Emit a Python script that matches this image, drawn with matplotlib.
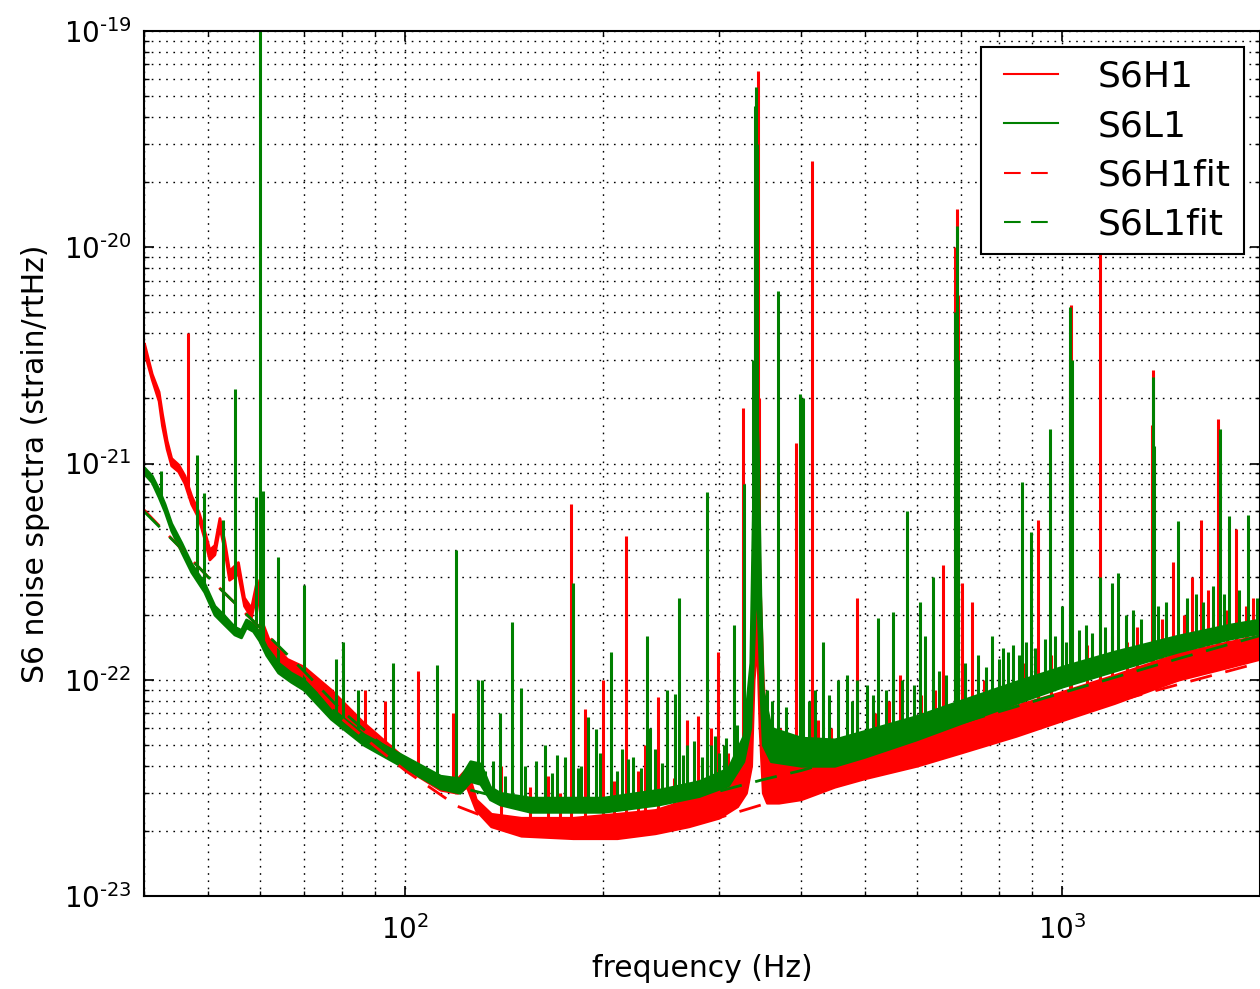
import math
import matplotlib
matplotlib.use("Agg")
import matplotlib.pyplot as plt
from matplotlib.lines import Line2D
from matplotlib.ticker import LogLocator, NullFormatter, FixedLocator, FuncFormatter

# broadband noise floor: knot frequency, lower and upper edge of the trace
h1_band_f = [40, 41.1, 42.1, 42.6, 43.3, 44.0, 45.1, 46.1, 47.2, 48.4, 49.4, 50.3, 51.2, 52.1,
             53.0, 53.9, 55.6, 56.8, 58.2, 59.4, 60.7, 62.0, 63.5, 66, 70, 77, 86, 100, 113,
             120, 124, 128, 135, 150, 180, 210, 240, 270, 300, 320, 330, 336, 339, 343, 346,
             350, 355, 370, 400, 450, 500, 600, 700, 850, 1000, 1200, 1500, 1800, 2000]
h1_band_lo = [3.3e-21, 2.45e-21, 1.95e-21, 1.5e-21, 1.17e-21, 9.8e-22, 9.2e-22, 8.1e-22, 6.5e-22,
              5.6e-22, 4.5e-22, 3.6e-22, 3.8e-22, 5.1e-22, 4.0e-22, 2.9e-22, 3.1e-22, 2.2e-22,
              1.95e-22, 2.6e-22, 1.62e-22, 1.38e-22, 1.28e-22, 1.08e-22, 9.4e-23, 7.4e-23,
              5.5e-23, 3.9e-23, 3.1e-23, 3.0e-23, 3.2e-23, 2.5e-23, 2.1e-23, 1.9e-23, 1.85e-23,
              1.85e-23, 1.95e-23, 2.1e-23, 2.3e-23, 2.6e-23, 3.0e-23, 4.0e-23, 1.0e-22, 1.5e-22,
              6e-23, 3.0e-23, 2.7e-23, 2.7e-23, 2.8e-23, 3.2e-23, 3.5e-23, 4.0e-23, 4.6e-23,
              5.5e-23, 6.5e-23, 7.8e-23, 1.0e-22, 1.15e-22, 1.25e-22]
h1_band_hi = [3.6e-21, 2.6e-21, 2.15e-21, 1.7e-21, 1.28e-21, 1.06e-21, 9.9e-22, 8.8e-22, 7.1e-22,
              6.0e-22, 4.9e-22, 4.0e-22, 4.2e-22, 5.6e-22, 4.4e-22, 3.2e-22, 3.5e-22, 2.4e-22,
              2.15e-22, 2.9e-22, 1.8e-22, 1.52e-22, 1.42e-22, 1.25e-22, 1.15e-22, 9.0e-23,
              6.4e-23, 4.3e-23, 3.4e-23, 3.5e-23, 3.9e-23, 2.8e-23, 2.4e-23, 2.3e-23, 2.3e-23,
              2.4e-23, 2.5e-23, 2.8e-23, 3.2e-23, 3.8e-23, 5.5e-23, 1.2e-22, 6e-22, 1.5e-21,
              3e-22, 1.0e-22, 5e-23, 4.2e-23, 4.0e-23, 4.4e-23, 4.7e-23, 5.5e-23, 6.3e-23,
              7.6e-23, 8.8e-23, 1.05e-22, 1.32e-22, 1.5e-22, 1.6e-22]

l1_band_f = [40, 41.1, 42.1, 43.0, 44.0, 45.6, 47.2, 49.4, 51.2, 53.0, 54.9, 56.2, 57.2, 58.6,
             59.9, 61.4, 64.0, 66.9, 70, 77, 86.4, 100, 113, 121, 125.5, 130, 134.5, 139.3, 155,
             200, 243, 280, 310, 327, 335, 339, 341.5, 344, 347, 350, 360, 400, 450, 500, 600,
             700, 850, 1000, 1200, 1500, 1800, 2000]
l1_band_lo = [9.0e-22, 8.2e-22, 7.0e-22, 6.0e-22, 4.9e-22, 3.9e-22, 3.15e-22, 2.55e-22, 2.0e-22,
              1.8e-22, 1.62e-22, 1.57e-22, 1.75e-22, 1.68e-22, 1.52e-22, 1.3e-22, 1.08e-22,
              9.8e-23, 9.0e-23, 6.6e-23, 5.0e-23, 3.9e-23, 3.15e-23, 3.0e-23, 3.4e-23, 3.3e-23,
              2.8e-23, 2.65e-23, 2.45e-23, 2.45e-23, 2.65e-23, 2.9e-23, 3.25e-23, 4.2e-23, 6e-23,
              1.5e-22, 3e-22, 2e-22, 9e-23, 5e-23, 4.2e-23, 4.0e-23, 4.0e-23, 4.4e-23, 5.3e-23,
              6.3e-23, 7.8e-23, 9.3e-23, 1.1e-22, 1.35e-22, 1.55e-22, 1.65e-22]
l1_band_hi = [9.6e-22, 8.8e-22, 7.6e-22, 6.5e-22, 5.3e-22, 4.3e-22, 3.45e-22, 2.8e-22, 2.2e-22,
              1.98e-22, 1.76e-22, 1.7e-22, 1.9e-22, 1.82e-22, 1.66e-22, 1.42e-22, 1.2e-22,
              1.08e-22, 1.0e-22, 7.4e-23, 5.6e-23, 4.4e-23, 3.6e-23, 3.5e-23, 4.2e-23, 4.1e-23,
              3.2e-23, 3.0e-23, 2.85e-23, 2.85e-23, 3.1e-23, 3.4e-23, 3.9e-23, 5.5e-23, 1.2e-22,
              1e-21, 2e-21, 1.2e-21, 2.5e-22, 9e-23, 6e-23, 5.4e-23, 5.3e-23, 5.8e-23, 6.8e-23,
              8.0e-23, 9.8e-23, 1.15e-22, 1.35e-22, 1.6e-22, 1.8e-22, 1.9e-22]

# narrow spectral lines: frequency and peak height
h1_line_f = [46.6, 60.0, 86.8, 93, 104.5, 118, 179, 188, 200, 217, 242, 268, 279, 299, 327,
             340, 342, 344, 346, 393, 416, 487, 566, 659, 687, 691, 694, 703, 728, 918, 1027,
             1031, 1141, 1253, 1368, 1373, 1472, 1576, 1624, 1667, 1725, 1837, 1902, 1950,
             140, 155, 165, 172, 208, 226, 232, 256, 288, 292, 310, 372, 425, 445, 520, 545,
             610, 640, 760, 800, 870, 960, 1090, 1190, 1300, 1420, 1530, 1780]
h1_line_top = [4.0e-21, 3.3e-22, 9e-23, 8e-23, 1.1e-22, 7e-23, 6.5e-22, 7.3e-23, 1.0e-22, 4.6e-22,
               8.3e-23, 6.5e-23, 6.8e-23, 1.35e-22, 1.8e-21, 2e-20, 5e-20, 6.5e-20, 2e-21,
               1.25e-21, 2.5e-20, 2.4e-22, 1.05e-22, 3.4e-22, 1.0e-20, 1.5e-20, 6e-21, 2.8e-22,
               2.3e-22, 5.5e-22, 3e-21, 5.4e-21, 9.3e-21, 1.5e-22, 1.5e-21, 2.7e-21, 3.5e-22,
               3e-22, 5.5e-22, 2.6e-22, 1.6e-21, 5e-22, 2.2e-22, 2.4e-22,
               4.0e-23, 3.2e-23, 3.6e-23, 3.0e-23, 3.4e-23, 3.8e-23, 5.0e-23, 3.5e-23, 4.2e-23,
               6.0e-23, 4.6e-23, 6e-23, 6.5e-23, 6e-23, 7e-23, 8e-23, 8.5e-23, 9e-23, 1.0e-22,
               1.1e-22, 1.2e-22, 1.3e-22, 1.45e-22, 1.6e-22, 1.75e-22, 1.9e-22, 2.0e-22, 2.1e-22]

l1_line_f = [42.4, 48.2, 49.4, 52.8, 55.1, 59.3, 60.0, 60.8, 64.0, 70.0, 78.3, 80.3, 84.6, 95.9,
             111.8, 119.5, 129, 131, 139.3, 145.3, 149.9, 163, 179.7, 189.6, 195, 205.9, 233.4,
             236, 250, 257, 261, 287.8, 316, 327.5, 338, 340, 342, 343.5, 369, 398.6, 402.7,
             432, 456, 470, 487, 525, 553, 581, 608, 619, 636, 687, 691, 695, 782, 812, 842, 868,
             896, 958, 998, 1028, 1033, 1142, 1162, 1190, 1215, 1373, 1377, 1498, 1597, 1697,
             1737, 1792, 1915, 1980,
             158, 170, 185, 214, 222, 268, 296, 305, 355, 362, 380, 412, 420, 442, 478, 505, 515,
             540, 570, 595, 650, 665, 712, 745, 765, 800, 828, 858, 880, 910, 940, 975, 1012,
             1060, 1085, 1110, 1250, 1280, 1320, 1400, 1440, 1550, 1640, 1760, 1860,
             132, 136, 142, 152, 167, 175, 183, 198, 210, 218, 228, 240, 246, 265, 275, 283,
             292, 300, 308, 320]
l1_line_top = [9.2e-22, 1.1e-21, 7.3e-22, 5.5e-22, 2.2e-21, 7e-22, 1e-19, 7.5e-22, 3.7e-22,
               2.75e-22, 1.25e-22, 1.5e-22, 9e-23, 1.2e-22, 1.17e-22, 4.0e-22, 1e-22, 1e-22,
               7e-23, 1.85e-22, 9.2e-23, 5e-23, 2.8e-22, 6.7e-23, 5.9e-23, 1.35e-22, 1.6e-22,
               6e-23, 9e-23, 8.6e-23, 2.4e-22, 7.4e-22, 1.8e-22, 8e-22, 3e-21, 4.5e-20, 5.5e-20,
               3e-20, 6.3e-21, 2.1e-21, 2.0e-21, 1.5e-22, 1.0e-22, 1.05e-22, 1.0e-22, 1.93e-22,
               2.05e-22, 6e-22, 2.3e-22, 1.6e-22, 3e-22, 5e-21, 1.25e-20, 3e-21, 1.6e-22, 1.4e-22,
               1.45e-22, 8.2e-22, 4.8e-22, 1.45e-21, 2.2e-22, 5.3e-21, 3e-21, 3e-22, 1.75e-22,
               2.8e-22, 3.1e-22, 2.5e-21, 1.2e-21, 5.4e-22, 2.5e-22, 2.7e-22, 1.45e-21, 5.7e-22,
               5.8e-22, 2.4e-22,
               4.2e-23, 4.5e-23, 4.0e-23, 4.8e-23, 4.4e-23, 5e-23, 5.5e-23, 5e-23, 9e-23, 8e-23,
               7.5e-23, 8e-23, 9e-23, 8.5e-23, 8e-23, 9.5e-23, 8.5e-23, 9e-23, 1.0e-22, 9.5e-23,
               1.1e-22, 1.05e-22, 1.2e-22, 1.3e-22, 1.15e-22, 1.25e-22, 1.35e-22, 1.3e-22,
               1.5e-22, 1.4e-22, 1.55e-22, 1.6e-22, 1.5e-22, 1.7e-22, 1.8e-22, 1.65e-22, 2.0e-22,
               2.1e-22, 1.9e-22, 2.2e-22, 2.3e-22, 2.4e-22, 2.3e-22, 2.5e-22, 2.6e-22,
               3.8e-23, 4.2e-23, 3.6e-23, 4.0e-23, 3.7e-23, 4.4e-23, 3.9e-23, 4.6e-23, 3.8e-23,
               4.3e-23, 3.9e-23, 4.8e-23, 4.1e-23, 4.5e-23, 5.2e-23, 4.4e-23, 5.0e-23, 4.6e-23,
               5.4e-23, 6.2e-23]

# fitted noise curves
fit_f = [40, 45, 50, 60, 70, 80, 90, 100, 120, 150, 180, 200, 250, 300, 350, 400, 500, 700,
         1000, 1500, 2000]
h1_fit = [6.1e-22, 4.2e-22, 3.0e-22, 1.75e-22, 1.07e-22, 6.6e-23, 4.9e-23, 3.8e-23, 2.6e-23,
          2.0e-23, 1.9e-23, 1.9e-23, 2.05e-23, 2.3e-23, 2.65e-23, 3.0e-23, 3.6e-23, 4.9e-23,
          6.8e-23, 9.5e-23, 1.2e-22]
l1_fit = [6.0e-22, 4.2e-22, 3.0e-22, 1.75e-22, 1.1e-22, 7.2e-23, 5.3e-23, 4.2e-23, 3.2e-23,
          2.7e-23, 2.6e-23, 2.6e-23, 2.75e-23, 3.05e-23, 3.45e-23, 3.8e-23, 4.6e-23, 6.3e-23,
          8.7e-23, 1.25e-22, 1.6e-22]

labels = ['S6H1', 'S6L1', 'S6H1fit', 'S6L1fit']
x_ticks = [100, 1000]
y_ticks = [1e-23, 1e-22, 1e-21, 1e-20, 1e-19]
red = '#ff0000'
green = '#008000'
dash = (8, 5)

plt.rcParams['font.family'] = 'DejaVu Sans'

fig = plt.figure(figsize=(12.6, 9.89), dpi=100)
ax = fig.add_axes([144 / 1260, 93 / 989, 1116 / 1260, 865 / 989])
ax.set_xscale('log')
ax.set_yscale('log')


def draw_detector(band_f, band_lo, band_hi, line_f, line_top, color):
    ax.fill_between(band_f, band_lo, band_hi, facecolor=color, edgecolor=color,
                    lw=2.0, zorder=2)
    # lines start inside the noise band: clip them to the region above its lower edge
    above = ax.fill_between(band_f, band_lo, 1e-17, facecolor='none', edgecolor='none',
                            zorder=0)
    lines = ax.vlines(line_f, 1e-24, line_top, color=color, lw=2.2, zorder=2)
    lines.set_clip_path(above.get_paths()[0], ax.transData)


draw_detector(h1_band_f, h1_band_lo, h1_band_hi, h1_line_f, h1_line_top, red)
draw_detector(l1_band_f, l1_band_lo, l1_band_hi, l1_line_f, l1_line_top, green)
ax.plot(fit_f, h1_fit, color=red, lw=2, dashes=dash, zorder=2)
ax.plot(fit_f, l1_fit, color=green, lw=2, dashes=dash, zorder=2)

ax.set_xlim(40, 2000)
ax.set_ylim(1e-23, 1e-19)


def pow_label(v, pos):
    e = int(round(math.log10(v)))
    sign = '\u2010' if e < 0 else ''
    return r'$\mathdefault{10^{%s%d}}$' % (sign, abs(e))


ax.xaxis.set_major_locator(FixedLocator(x_ticks))
ax.yaxis.set_major_locator(FixedLocator(y_ticks))
ax.xaxis.set_major_formatter(FuncFormatter(pow_label))
ax.yaxis.set_major_formatter(FuncFormatter(pow_label))
ax.xaxis.set_minor_locator(LogLocator(base=10, subs=range(2, 10), numticks=50))
ax.yaxis.set_minor_locator(LogLocator(base=10, subs=range(2, 10), numticks=50))
ax.xaxis.set_minor_formatter(NullFormatter())
ax.yaxis.set_minor_formatter(NullFormatter())

ax.tick_params(which='both', direction='in', top=True, right=True)
ax.tick_params(which='major', length=7, width=1.2, labelsize=20)
ax.tick_params(axis='x', which='major', pad=14)
ax.tick_params(axis='y', which='major', pad=9)
ax.tick_params(which='minor', length=3.5, width=1)
for sp in ax.spines.values():
    sp.set_linewidth(1.5)
ax.grid(True, which='both', color='black', linestyle=(0, (1.2, 4)), linewidth=1.0)

ax.set_xlabel('frequency (Hz)', fontsize=21.5, labelpad=6)
ax.set_ylabel('S6 noise spectra (strain/rtHz)', fontsize=21.5, labelpad=10)

handles = [Line2D([], [], color=red, lw=1.5),
           Line2D([], [], color=green, lw=1.5),
           Line2D([], [], color=red, lw=1.5, dashes=dash),
           Line2D([], [], color=green, lw=1.5, dashes=dash)]
leg = ax.legend(handles, labels, loc='upper right', fontsize=26, numpoints=2,
                handlelength=2.1, handletextpad=0.8, borderpad=0.35, labelspacing=0.42,
                borderaxespad=0.45, fancybox=False, framealpha=1, edgecolor='black')
leg.get_frame().set_linewidth(1.5)

fig.savefig('out.png', dpi=100)
